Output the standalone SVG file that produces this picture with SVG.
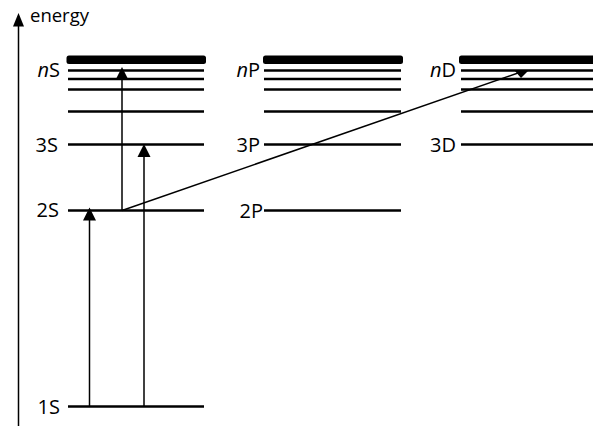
<svg xmlns="http://www.w3.org/2000/svg" width="593" height="426" viewBox="0 0 593 426">
<defs>
<style>
.lvl{stroke:#000;stroke-width:2.5;fill:none}
.bar{fill:#000}
.arr{stroke:#000;stroke-width:1.5;fill:none}
.head{fill:#000}
text{font-family:"Open Sans","Liberation Sans",sans-serif;font-size:20px;fill:#000}
.lab{text-anchor:end}
</style>
</defs>
<rect width="593" height="426" fill="#fff"/>
<g id="axis">
<line class="arr" x1="18.5" y1="426" x2="18.5" y2="24"/>
<polygon class="head" points="18.5,13 13,26.5 24,26.5"/>
<text x="30" y="22" style="font-size:18.5px">energy</text>
</g>
<g id="col-S">
<rect class="bar" x="66.5" y="55.5" width="139.5" height="8.5" rx="2.5"/>
<line class="lvl" x1="68" y1="70.5" x2="204" y2="70.5"/>
<line class="lvl" x1="68" y1="79" x2="204" y2="79"/>
<line class="lvl" x1="68" y1="89.5" x2="204" y2="89.5"/>
<line class="lvl" x1="68" y1="111.5" x2="204" y2="111.5"/>
<line class="lvl" x1="68" y1="144.5" x2="204" y2="144.5"/>
<line class="lvl" x1="68" y1="210.5" x2="204" y2="210.5"/>
<line class="lvl" x1="68" y1="406.5" x2="204" y2="406.5"/>
<text class="lab" x="60" y="76.5"><tspan font-style="italic">n</tspan>S</text>
<text class="lab" x="58" y="151.5">3S</text>
<text class="lab" x="59" y="217">2S</text>
<text class="lab" x="60" y="413.5">1S</text>
</g>
<g id="col-P">
<rect class="bar" x="263" y="55.5" width="140" height="8.5" rx="2.5"/>
<line class="lvl" x1="264" y1="70.5" x2="401" y2="70.5"/>
<line class="lvl" x1="264" y1="79" x2="401" y2="79"/>
<line class="lvl" x1="264" y1="89.5" x2="401" y2="89.5"/>
<line class="lvl" x1="264" y1="111.5" x2="401" y2="111.5"/>
<line class="lvl" x1="264" y1="144.5" x2="401" y2="144.5"/>
<line class="lvl" x1="264" y1="210.5" x2="401" y2="210.5"/>
<text class="lab" x="260" y="76.5"><tspan font-style="italic">n</tspan>P</text>
<text class="lab" x="260" y="151.5">3P</text>
<text class="lab" x="263" y="217.5">2P</text>
</g>
<g id="col-D">
<rect class="bar" x="459" y="55.5" width="150" height="8.5" rx="2.5"/>
<line class="lvl" x1="461" y1="70.5" x2="600" y2="70.5"/>
<line class="lvl" x1="461" y1="79" x2="600" y2="79"/>
<line class="lvl" x1="461" y1="89.5" x2="600" y2="89.5"/>
<line class="lvl" x1="461" y1="111.5" x2="600" y2="111.5"/>
<line class="lvl" x1="461" y1="144.5" x2="600" y2="144.5"/>
<text class="lab" x="456" y="76.5"><tspan font-style="italic">n</tspan>D</text>
<text class="lab" x="456" y="151.5">3D</text>
</g>
<g id="connectors">
<line class="arr" x1="89.5" y1="406.5" x2="89.5" y2="219"/>
<polygon class="head" points="89.5,207.5 83,220.5 96,220.5"/>
<line class="arr" x1="144" y1="406.5" x2="144" y2="156"/>
<polygon class="head" points="144,144 137.5,157 150.5,157"/>
<line class="arr" x1="122" y1="210.5" x2="122" y2="79"/>
<polygon class="head" points="122,67 115.5,80 128.5,80"/>
<line class="arr" x1="122" y1="210.5" x2="518" y2="73"/>
<polygon class="head" points="514.5,70.5 528.5,70.5 521,78"/>
</g>
</svg>
